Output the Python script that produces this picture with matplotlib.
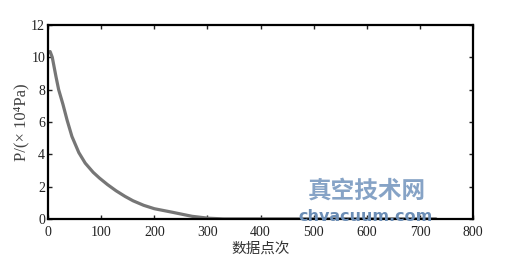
import matplotlib
matplotlib.use("Agg")
import matplotlib.pyplot as plt

# data
points = [0, 4, 8, 15, 20, 28, 36, 45, 58, 70, 85, 97, 112, 128, 145, 160,
          180, 200, 234, 271, 302, 330, 400, 500, 600, 730]
pressure = [10.3, 10.35, 10.0, 8.8, 8.0, 7.1, 6.1, 5.1, 4.1, 3.45, 2.88, 2.52,
            2.12, 1.74, 1.39, 1.12, 0.84, 0.63, 0.41, 0.16, 0.04, 0.0,
            0, 0, 0, 0]
xticks = [0, 100, 200, 300, 400, 500, 600, 700, 800]
yticks = [0, 2, 4, 6, 8, 10, 12]

fonts = ['Liberation Serif', 'Noto Sans CJK SC', 'DejaVu Sans']
plt.rcParams['font.family'] = fonts

fig = plt.figure(figsize=(5.08, 2.65), dpi=100)
ax = fig.add_axes([0.0945, 0.174, 0.837, 0.732])

ax.plot(points, pressure, color='#767676', linewidth=2.3, solid_capstyle='round',
        solid_joinstyle='round')

ax.set_xlim(0, 800)
ax.set_ylim(0, 12)
ax.set_xticks(xticks)
ax.set_yticks(yticks)
ax.tick_params(direction='in', top=True, right=True, length=3, width=1,
               labelsize=10, colors='#222222', pad=2)
ax.tick_params(axis='x', pad=5)
for s in ax.spines.values():
    s.set_linewidth(1.6)
    s.set_color('black')

ax.set_xlabel('数据点次', fontsize=10.5, color='#333333', labelpad=2)
ax.set_ylabel('P/(× 10⁴Pa)', fontsize=12, color='#444444', labelpad=1)

# watermark
fig.text(0.723, 0.28, '真空技术网', fontsize=17, fontweight='bold',
         color='#86a3c6', ha='center', va='center', family=['Noto Sans CJK SC'])
fig.text(0.72, 0.182, 'chvacuum.com', fontsize=11.5, fontweight='bold',
         color='#6b8db5', ha='center', va='center', family=['DejaVu Sans'])

fig.savefig('out.png', dpi=100)
